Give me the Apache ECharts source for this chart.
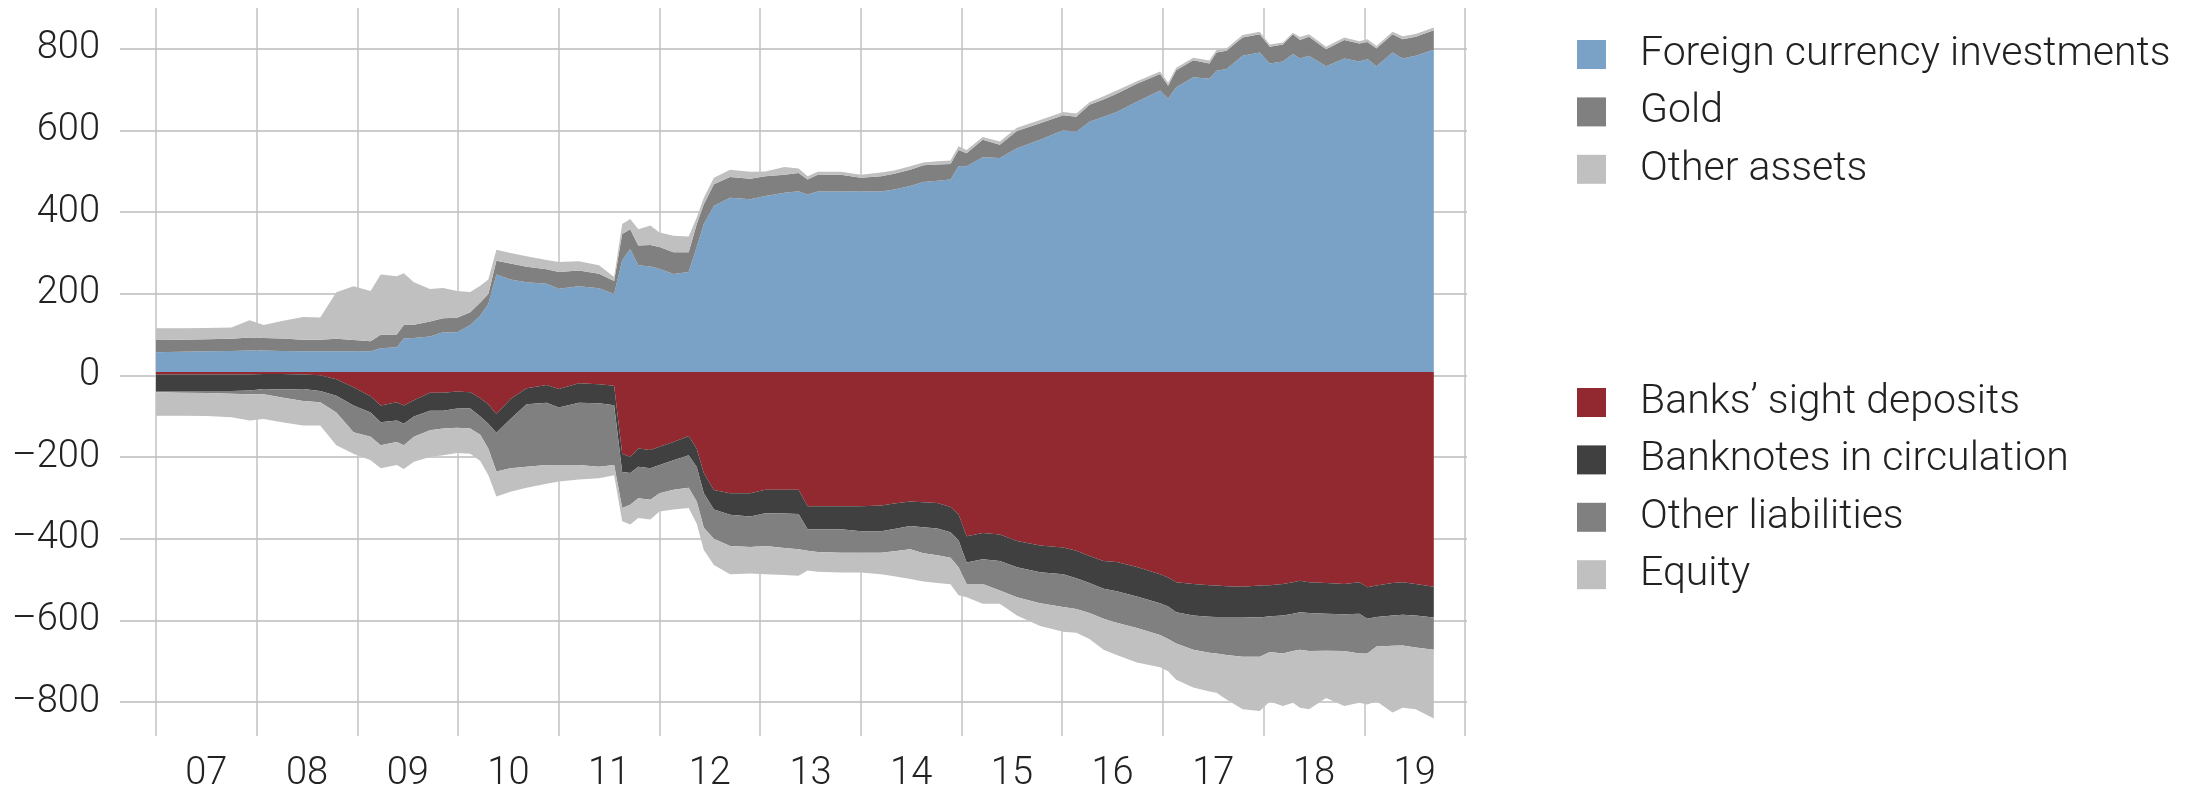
<!DOCTYPE html>
<html>
<head>
<meta charset="utf-8">
<script src="https://cdn.jsdelivr.net/npm/echarts@6.0.0/dist/echarts.min.js"></script>
<style>
  html, body { margin: 0; padding: 0; background: #fff; }
  #chart { width: 2205px; height: 793px; }
</style>
</head>
<body>
<div id="chart"></div>
<script>
  // dates as decimal years (roughly monthly where it moves)
  const dates = [
    2007.00, 2007.25, 2007.50, 2007.75, 2007.93, 2008.07, 2008.25, 2008.46, 2008.63, 2008.79,
    2008.96, 2009.13, 2009.23, 2009.39, 2009.46, 2009.56, 2009.72, 2009.85, 2009.99, 2010.12,
    2010.22, 2010.30, 2010.38, 2010.52, 2010.68, 2010.88, 2011.00, 2011.20, 2011.40, 2011.55,
    2011.63, 2011.71, 2011.79, 2011.91, 2012.00, 2012.14, 2012.29, 2012.37, 2012.44, 2012.54,
    2012.70, 2012.90, 2013.05, 2013.24, 2013.38, 2013.47, 2013.57, 2013.80, 2014.00, 2014.20,
    2014.33, 2014.49, 2014.62, 2014.76, 2014.89, 2014.97, 2015.05, 2015.21, 2015.38, 2015.55,
    2015.78, 2016.01, 2016.14, 2016.27, 2016.41, 2016.54, 2016.74, 2016.97, 2017.05, 2017.13,
    2017.30, 2017.46, 2017.53, 2017.63, 2017.79, 2017.96, 2018.06, 2018.19, 2018.29, 2018.36,
    2018.45, 2018.62, 2018.80, 2018.95, 2019.03, 2019.12, 2019.28, 2019.38, 2019.51, 2019.69
  ];

  // assets
  const foreignCurrency = [
    49, 50, 51, 52, 53, 53, 52, 51, 51, 51,
    51, 51, 59, 61, 83, 84, 88, 98, 98, 116,
    140, 168, 241, 229, 222, 218, 206, 212, 207, 193,
    276, 304, 264, 261, 255, 242, 247, 309, 366, 411,
    431, 427, 435, 443, 447, 439, 446, 446, 447, 446,
    451, 460, 470, 473, 476, 509, 509, 531, 529, 553,
    574, 598, 594, 619, 631, 643, 668, 696, 676, 704,
    729, 725, 745, 749, 782, 790, 763, 768, 786, 775,
    782, 756, 775, 768, 774, 756, 790, 775, 782, 797
  ];
  const gold = [
    30, 30, 30, 30, 32, 31, 31, 29, 29, 31,
    28, 25, 33, 32, 33, 33, 37, 35, 36, 32,
    32, 25, 34, 39, 38, 36, 41, 39, 36, 32,
    65, 49, 49, 53, 54, 54, 49, 57, 49, 53,
    51, 51, 49, 45, 45, 37, 42, 42, 33, 38,
    39, 40, 41, 40, 38, 40, 32, 43, 33, 43,
    41, 37, 37, 42, 43, 45, 45, 41, 32, 42,
    42, 38, 45, 45, 45, 45, 41, 42, 49, 46,
    47, 42, 46, 44, 42, 44, 45, 48, 47, 48
  ];
  const otherAssets = [
    29, 28, 28, 28, 43, 32, 43, 56, 55, 115,
    133, 124, 149, 144, 128, 105, 80, 75, 66, 50,
    41, 36, 27, 26, 26, 23, 25, 23, 21, 10,
    25, 25, 40, 48, 36, 41, 39, 16, 16, 16,
    18, 17, 12, 19, 11, 8, 7, 7, 8, 9,
    8, 9, 7, 8, 9, 9, 8, 7, 8, 8,
    8, 8, 8, 6, 8, 8, 6, 6, 7, 6,
    6, 7, 6, 6, 6, 6, 6, 5, 4, 7,
    6, 6, 6, 6, 7, 6, 6, 7, 7, 7
  ];

  // liabilities (magnitudes, drawn below zero)
  const sightDeposits = [
    6, 6, 6, 6, 6, 5, 5, 6, 8, 18,
    38, 60, 83, 75, 83, 70, 51, 51, 48, 50,
    65, 80, 104, 67, 40, 32, 42, 28, 30, 34,
    202, 210, 189, 193, 185, 173, 158, 190, 250, 292,
    300, 300, 291, 291, 291, 332, 332, 332, 332, 330,
    325, 320, 322, 324, 334, 352, 406, 398, 402, 418,
    429, 434, 442, 455, 467, 470, 482, 500, 508, 520,
    524, 527, 528, 530, 531, 528, 527, 524, 520, 516,
    520, 522, 524, 520, 532, 528, 522, 520, 524, 531
  ];
  const banknotes = [
    41, 41, 41, 41, 40, 37, 38, 36, 39, 41,
    45, 40, 41, 45, 45, 40, 45, 45, 42, 40,
    45, 48, 46, 49, 40, 44, 46, 48, 47, 48,
    45, 40, 45, 45, 45, 45, 48, 45, 50, 48,
    53, 57, 58, 59, 60, 57, 57, 57, 62, 64,
    63, 61, 62, 63, 62, 64, 65, 65, 65, 65,
    66, 66, 68, 67, 69, 72, 73, 72, 72, 74,
    78, 78, 78, 76, 75, 79, 77, 78, 78, 78,
    76, 76, 75, 78, 78, 78, 80, 80, 78, 76
  ];
  const otherLiabilities = [
    3, 4, 5, 7, 9, 13, 20, 30, 28, 41,
    66, 60, 57, 53, 53, 50, 48, 44, 48, 50,
    45, 62, 96, 122, 154, 154, 142, 154, 157, 148,
    89, 78, 78, 78, 70, 73, 80, 85, 85, 72,
    77, 76, 81, 85, 87, 53, 56, 58, 53, 53,
    55, 57, 64, 66, 63, 67, 53, 61, 73, 74,
    77, 81, 76, 74, 74, 78, 78, 78, 80, 77,
    85, 89, 90, 94, 98, 97, 88, 94, 92, 93,
    94, 91, 91, 98, 86, 73, 75, 76, 79, 80
  ];
  const equity = [
    58, 57, 57, 58, 65, 61, 61, 60, 57, 81,
    53, 58, 57, 57, 59, 62, 66, 66, 62, 62,
    65, 65, 62, 58, 52, 46, 41, 36, 29, 25,
    33, 49, 49, 49, 45, 49, 50, 55, 55, 65,
    70, 65, 70, 67, 66, 49, 49, 49, 49, 53,
    62, 74, 70, 69, 66, 69, 33, 49, 33, 45,
    56, 61, 59, 64, 77, 80, 85, 80, 80, 90,
    93, 96, 97, 110, 130, 134, 123, 130, 128, 143,
    144, 117, 136, 122, 126, 135, 165, 154, 153, 170
  ];

  const yearLabels = ['07', '08', '09', '10', '11', '12', '13', '14', '15', '16', '17', '18', '19'];

  const FONT = 'Roboto';
  const TEXT = '#222';

  // decimal year -> timestamp (series sit on a time axis so stacking works by index)
  function yearToTime(y) {
    const yr = Math.floor(y);
    const a = Date.UTC(yr, 0, 1);
    const b = Date.UTC(yr + 1, 0, 1);
    return a + (y - yr) * (b - a);
  }

  function area(name, values, color, stack, sign) {
    return {
      name: name,
      type: 'line',
      stack: stack,
      xAxisIndex: 3,
      yAxisIndex: 1,
      symbol: 'none',
      silent: true,
      lineStyle: { width: 0 },
      itemStyle: { color: color },
      areaStyle: { color: color, opacity: 1 },
      data: dates.map((d, i) => [yearToTime(d), sign * values[i]])
    };
  }

  const legendBase = {
    orient: 'vertical',
    left: 1572,
    icon: 'rect',
    itemWidth: 29,
    itemHeight: 29,
    itemGap: 16.4,
    selectedMode: false,
    textStyle: {
      fontFamily: FONT,
      fontWeight: 300,
      fontSize: 41,
      color: TEXT,
      padding: [0, 0, 0, 29]
    }
  };

  const chart = echarts.init(document.getElementById('chart'));
  chart.setOption({
    animation: false,
    backgroundColor: '#fff',
    grid: [
      // grid for the horizontal lines and y labels, starts left of the data
      { left: 120, right: 738, top: 8, bottom: 50 },
      { left: 156, right: 740, top: 8, bottom: 50 }
    ],
    legend: [
      Object.assign({}, legendBase, {
        top: 29,
        data: ['Foreign currency investments', 'Gold', 'Other assets']
      }),
      Object.assign({}, legendBase, {
        top: 377,
        data: ['Banks’ sight deposits', 'Banknotes in circulation', 'Other liabilities', 'Equity']
      })
    ],
    xAxis: [
      { gridIndex: 0, type: 'value', min: 0, max: 1, show: false },
      {
        gridIndex: 1, type: 'value', min: 2007, max: 2020, interval: 1,
        axisLine: { show: false }, axisTick: { show: false }, axisLabel: { show: false },
        splitLine: { show: true, lineStyle: { color: '#c2c2c2', width: 1.5 } }
      },
      {
        gridIndex: 1, type: 'category', position: 'bottom', data: yearLabels, boundaryGap: true,
        axisLine: { show: false }, axisTick: { show: false }, splitLine: { show: false },
        axisLabel: { fontFamily: FONT, fontWeight: 300, fontSize: 38, color: TEXT, margin: 19 }
      },
      {
        gridIndex: 1, type: 'time', position: 'bottom', show: false,
        min: Date.UTC(2007, 0, 1), max: Date.UTC(2020, 0, 1)
      }
    ],
    yAxis: [
      {
        gridIndex: 0, type: 'value', min: -900, max: 900, interval: 100,
        axisLine: { show: false }, axisTick: { show: false },
        axisLabel: {
          fontFamily: FONT, fontWeight: 300, fontSize: 38, color: TEXT, margin: 20,
          formatter: v => (v % 200 !== 0) ? '' : (v < 0 ? '–' + Math.abs(v) : String(v))
        },
        splitLine: {
          show: true,
          // only every other line (the hundreds in between stay blank)
          lineStyle: { color: ['rgba(0,0,0,0)', '#cccccc'], width: 2 }
        }
      },
      { gridIndex: 1, type: 'value', min: -900, max: 900, show: false }
    ],
    series: [
      area('Foreign currency investments', foreignCurrency, '#7aa1c6', 'assets', 1),
      area('Gold', gold, '#808080', 'assets', 1),
      area('Other assets', otherAssets, '#c0c0c0', 'assets', 1),
      area('Banks’ sight deposits', sightDeposits, '#922830', 'liabilities', -1),
      area('Banknotes in circulation', banknotes, '#404040', 'liabilities', -1),
      area('Other liabilities', otherLiabilities, '#808080', 'liabilities', -1),
      area('Equity', equity, '#c0c0c0', 'liabilities', -1)
    ]
  });
</script>
</body>
</html>
